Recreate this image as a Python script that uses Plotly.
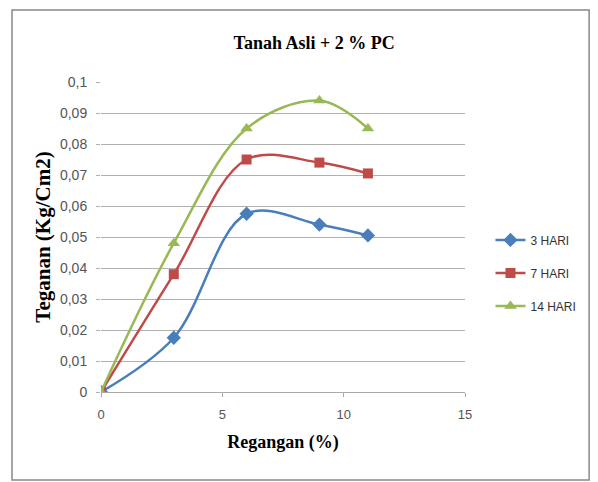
import plotly.graph_objects as go

regangan = [0, 3, 6, 9, 11]
hari_3 = [0, 0.0175, 0.0575, 0.054, 0.0505]
hari_7 = [0, 0.038, 0.075, 0.074, 0.0705]
hari_14 = [0, 0.048, 0.085, 0.094, 0.085]

y_ticks = [0, 0.01, 0.02, 0.03, 0.04, 0.05, 0.06, 0.07, 0.08, 0.09, 0.1]
y_labels = ['0', '0,01', '0,02', '0,03', '0,04', '0,05', '0,06', '0,07', '0,08', '0,09', '0,1']

series = [
    ('3 HARI', hari_3, '#4a7ebb', 'diamond', 11),
    ('7 HARI', hari_7, '#be4b48', 'square', 10),
    ('14 HARI', hari_14, '#98b954', 'triangle-up', 11),
]

fig = go.Figure()
for name, vals, color, symbol, size in series:
    fig.add_trace(go.Scatter(x=regangan, y=vals, name=name, legendgroup=name,
                             mode='lines+markers',
                             line=dict(color=color, width=2.5, shape='spline', smoothing=1.0),
                             marker=dict(color=color, symbol=symbol, size=size)))

# page has an 8px body margin, so margins are offset to keep the plot area in place
fig.update_layout(
    width=598, height=482,
    margin=dict(l=93, r=141, t=74, b=98),
    paper_bgcolor='white', plot_bgcolor='white',
    title=dict(text='<b>Tanah Asli + 2 % PC</b>', x=0.512, xanchor='center',
               y=0.929, yanchor='middle',
               font=dict(family='Liberation Serif', size=18, color='black')),
    legend=dict(x=1.07, y=0.384, xanchor='left', yanchor='middle',
                font=dict(family='Liberation Sans', size=12, color='#333'),
                tracegroupgap=14),
    font=dict(family='Liberation Sans', size=13, color='#555'),
)

fig.update_xaxes(range=[0, 15], tickvals=[0, 5, 10, 15], showgrid=False,
                 showline=True, linecolor='#aaa', ticks='outside', ticklen=4, tickcolor='#aaa',
                 zeroline=False, ticklabelstandoff=6,
                 title=dict(text='<b>Regangan (%)</b>', standoff=14,
                            font=dict(family='Liberation Serif', size=18, color='black')))
fig.update_yaxes(range=[0, 0.1], tickvals=y_ticks, ticktext=y_labels,
                 showgrid=True, gridcolor='#b0b0b0', gridwidth=1,
                 showline=False, ticks='outside', ticklen=4, tickcolor='#b0b0b0',
                 zeroline=False, ticklabelstandoff=6, tickfont=dict(size=14),
                 title=dict(text='<b>Teganan (Kg/Cm2)</b>', standoff=3,
                            font=dict(family='Liberation Serif', size=21, color='black')))

fig.add_shape(type='rect', xref='paper', yref='paper',
              x0=-0.2445, x1=1.341, y0=-0.284, y1=1.232,
              line=dict(color='#888', width=1.5))

fig.write_html("out.html")
